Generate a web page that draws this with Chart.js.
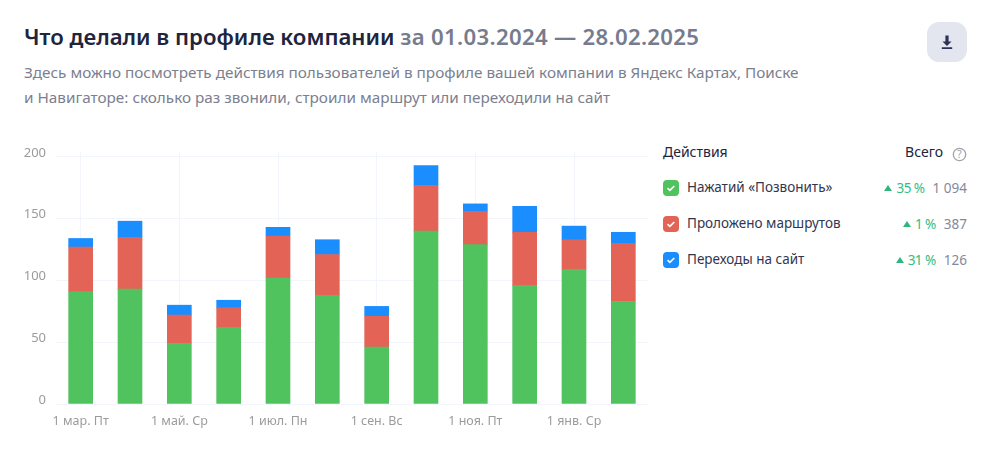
<!DOCTYPE html>
<html lang="ru">
<head>
<meta charset="UTF-8">
<title>Что делали в профиле компании</title>
<script src="https://cdn.jsdelivr.net/npm/chart.js@4.4.1/dist/chart.umd.min.js"></script>
<style>
    html, body { margin: 0; padding: 0; background: #fff; }
    body { width: 987px; height: 457px; position: relative; overflow: hidden; font-family: "Noto Sans", sans-serif; color: #21243d; }
    .abs { position: absolute; white-space: nowrap; }
    #title { left: 24px; top: 22px; font-size: 22.2px; line-height: 30px; font-weight: 600; }
    #title span { color: #767b8e; letter-spacing: 0.3px; }
    #subtitle { left: 24px; top: 60px; font-size: 15.3px; line-height: 25px; color: #7b8090; }
    #download { left: 927px; top: 22px; width: 40px; height: 40px; border-radius: 12px; background: #e3e6ef; }
    #download svg { display: block; margin: 10px; }
    #chart-box { left: 0; top: 140px; width: 660px; height: 300px; }
    #chart-box canvas { display: block; }
    .head { font-size: 14px; line-height: 20px; top: 142px; }
    #help { left: 952px; top: 145px; }
    .row { left: 663px; width: 304px; height: 20px; font-size: 13.5px; line-height: 20px; color: #33364f; }
    .box { position: absolute; left: 0; top: 2px; width: 16px; height: 16px; border-radius: 4px; }
    .box svg { display: block; }
    .name { position: absolute; left: 24px; top: -1px; }
    .right { position: absolute; right: 0; top: 0; }
    .tri { display: inline-block; width: 0; height: 0; border-left: 4px solid transparent; border-right: 4px solid transparent; border-bottom: 6px solid #2fb67c; margin-right: 4px; position: relative; top: -2px; }
    .pct { color: #33bd83; margin-right: 8px; letter-spacing: -0.5px; }
    .num { color: #858a9b; }
</style>
</head>
<body>
<div class="abs" id="title">Что делали в профиле компании <span>за 01.03.2024 — 28.02.2025</span></div>
<div class="abs" id="subtitle">Здесь можно посмотреть действия пользователей в профиле вашей компании в Яндекс Картах, Поиске<br>и Навигаторе: сколько раз звонили, строили маршрут или переходили на сайт</div>
<div class="abs" id="download">
    <svg width="20" height="20" viewBox="0 0 20 20"><path d="M8.4 3.5h3.2v6h2.9L10 14 5.500 9.500h2.900z M4.800 15.300h10.400v1.700H4.800z" fill="#2e3258"/></svg>
</div>
<div class="abs" id="chart-box"><canvas id="chart" width="660" height="300"></canvas></div>
<div class="abs head" style="left:663px">Действия</div>
<div class="abs head" style="right:44px">Всего</div>
<div class="abs" id="help">
    <svg width="15" height="15" viewBox="0 0 15 15"><circle cx="7.500" cy="7.500" r="6.200" fill="none" stroke="#9ea2b0" stroke-width="1.300"/><text x="7.500" y="11" font-size="10" text-anchor="middle" fill="#9ea2b0">?</text></svg>
</div>
<div id="legend"></div>

<script>
    const categories = ['1 мар. Пт', '1 апр. Пн', '1 май. Ср', '1 июн. Сб', '1 июл. Пн', '1 авг. Чт', '1 сен. Вс', '1 окт. Вт', '1 ноя. Пт', '1 дек. Вс', '1 янв. Ср', '1 фев. Сб'];
    const calls = [91, 93, 49, 62, 102, 88, 46, 140, 129, 96, 109, 83];
    const routes = [36, 42, 23, 16, 34, 33, 25, 37, 27, 43, 24, 47];
    const visits = [7, 13, 8, 6, 7, 12, 8, 16, 6, 21, 11, 9];
    const seriesNames = ['Нажатий «Позвонить»', 'Проложено маршрутов', 'Переходы на сайт'];
    const seriesColors = ['#50c25e', '#e36357', '#1a8dff'];
    const seriesPercents = ['35 %', '1 %', '31 %'];
    const seriesTotals = ['1 094', '387', '126'];
    const yTicks = [0, 50, 100, 150, 200];

    const tickColor = '#9b9b9b';
    const gridColor = '#f2f5fc';

    new Chart(document.getElementById('chart'), {
        type: 'bar',
        data: {
            labels: categories,
            datasets: [calls, routes, visits].map((values, i) => ({
                label: seriesNames[i],
                data: values,
                backgroundColor: seriesColors[i],
                barThickness: 24,
                borderWidth: 0
            }))
        },
        options: {
            responsive: false,
            animation: false,
            layout: { padding: { top: 12, right: 12, left: 0, bottom: 0 } },
            plugins: { legend: { display: false }, tooltip: { enabled: false } },
            scales: {
                x: {
                    stacked: true,
                    afterFit: scale => { scale.height = 36; },
                    border: { display: false },
                    grid: {
                        offset: false,
                        drawTicks: false,
                        // vertical lines only under the labelled months
                        color: ctx => ctx.index % 2 === 0 ? gridColor : 'transparent'
                    },
                    ticks: {
                        autoSkip: false,
                        maxRotation: 0,
                        padding: 10,
                        color: tickColor,
                        font: { family: 'Noto Sans', size: 12.5 },
                        callback: (v, i) => i % 2 === 0 ? categories[i] : ''
                    }
                },
                y: {
                    stacked: true,
                    min: 0,
                    max: 204,
                    afterFit: scale => { scale.width = 56; scale.paddingTop = 0; scale.paddingBottom = 0; },
                    afterBuildTicks: scale => { scale.ticks = yTicks.map(value => ({ value })); },
                    border: { display: false },
                    grid: { color: gridColor, drawTicks: false },
                    ticks: {
                        padding: 10,
                        color: tickColor,
                        font: { family: 'Noto Sans', size: 13, lineHeight: '8px' },
                        // empty second line lifts the number above its grid line
                        callback: v => [String(v), '']
                    }
                }
            }
        }
    });

    // legend rows on the right
    const rowTops = [178, 214, 250];
    const legend = document.getElementById('legend');
    seriesNames.forEach((name, i) => {
        const row = document.createElement('div');
        row.className = 'abs row';
        row.style.top = rowTops[i] + 'px';
        row.innerHTML = `<div class="box" style="background:${seriesColors[i]}"><svg width="16" height="16" viewBox="0 0 16 16"><path d="M4.500 8.200l2.400 2.200 4.400-4.400" fill="none" stroke="#fff" stroke-width="1.600"/></svg></div>
            <span class="name">${name}</span>
            <span class="right"><i class="tri"></i><span class="pct">${seriesPercents[i]}</span><span class="num">${seriesTotals[i]}</span></span>`;
        legend.appendChild(row);
    });
</script>
</body>
</html>
